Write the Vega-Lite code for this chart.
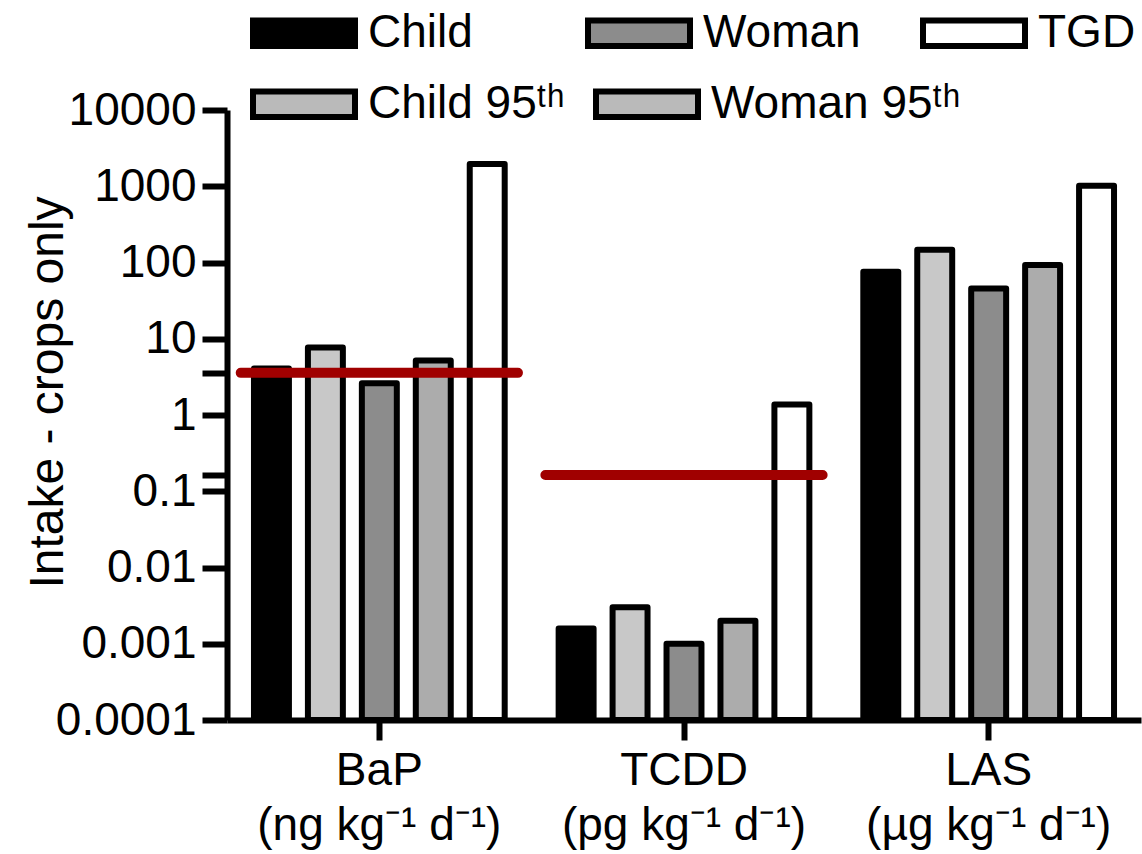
{
  "$schema": "https://vega.github.io/schema/vega-lite/v6.json",
  "width": 914,
  "height": 610,
  "autosize": {"type": "none"},
  "padding": {"left": 227, "top": 110, "right": 1, "bottom": 134},
  "background": "white",
  "config": {
    "view": {"stroke": null},
    "font": "Liberation Sans"
  },
  "datasets": {
    "bars": [
      {"compound": "BaP", "group": "Child", "intake": 4.07},
      {"compound": "BaP", "group": "Child 95th", "intake": 7.67},
      {"compound": "BaP", "group": "Woman", "intake": 2.61},
      {"compound": "BaP", "group": "Woman 95th", "intake": 5.18},
      {"compound": "BaP", "group": "TGD", "intake": 1960},
      {"compound": "TCDD", "group": "Child", "intake": 0.00158},
      {"compound": "TCDD", "group": "Child 95th", "intake": 0.00302},
      {"compound": "TCDD", "group": "Woman", "intake": 0.001},
      {"compound": "TCDD", "group": "Woman 95th", "intake": 0.00201},
      {"compound": "TCDD", "group": "TGD", "intake": 1.37},
      {"compound": "LAS", "group": "Child", "intake": 75.7},
      {"compound": "LAS", "group": "Child 95th", "intake": 147},
      {"compound": "LAS", "group": "Woman", "intake": 45.7},
      {"compound": "LAS", "group": "Woman 95th", "intake": 92.5},
      {"compound": "LAS", "group": "TGD", "intake": 1019}
    ],
    "limits": [
      {"compound": "BaP", "limit": 3.57},
      {"compound": "TCDD", "limit": 0.163}
    ]
  },
  "layer": [
    {
      "data": {"name": "bars"},
      "mark": {"type": "bar", "stroke": "black", "strokeWidth": 6, "strokeJoin": "round"},
      "encoding": {
        "x": {
          "field": "compound",
          "type": "nominal",
          "sort": ["BaP", "TCDD", "LAS"],
          "scale": {"paddingInner": 0, "paddingOuter": 0},
          "axis": {
            "title": null,
            "labelAngle": 0,
            "labelExpr": "datum.value == 'BaP' ? ['BaP', '(ng kg⁻¹ d⁻¹)'] : datum.value == 'TCDD' ? ['TCDD', '(pg kg⁻¹ d⁻¹)'] : ['LAS', '(µg kg⁻¹ d⁻¹)']",
            "labelFontSize": 46,
            "labelFont": "Liberation Sans",
            "labelColor": "black",
            "labelPadding": 8,
            "labelBaseline": "top",
            "labelLineHeight": 55,
            "labelLimit": 500,
            "tickSize": 20,
            "tickWidth": 6,
            "tickColor": "black",
            "domainWidth": 6,
            "domainColor": "black",
            "grid": false
          }
        },
        "xOffset": {
          "field": "group",
          "type": "nominal",
          "sort": ["Child", "Child 95th", "Woman", "Woman 95th", "TGD"],
          "scale": {"paddingInner": 0.352, "paddingOuter": 0.5}
        },
        "y": {
          "field": "intake",
          "type": "quantitative",
          "scale": {"type": "log", "domain": [0.0001, 10000]},
          "axis": {
            "title": "Intake - crops only",
            "titleFontSize": 48,
            "titleFont": "Liberation Sans",
            "titleFontWeight": "normal",
            "titleColor": "black",
            "titleX": -165,
            "titleY": 282,
            "titleBaseline": "alphabetic",
            "titleAlign": "center",
            "values": [0.0001, 0.001, 0.01, 0.1, 1, 10, 100, 1000, 10000, 3.57, 0.163],
            "format": "~g",
            "labelExpr": "datum.value == 3.57 || datum.value == 0.163 ? '' : datum.label",
            "labelFontSize": 46,
            "labelFont": "Liberation Sans",
            "labelColor": "black",
            "labelPadding": 6,
            "labelOverlap": false,
            "labelFlush": false,
            "tickSize": 25,
            "tickWidth": 6,
            "tickColor": "black",
            "domainWidth": 6,
            "domainColor": "black",
            "grid": false
          }
        },
        "y2": {"datum": 0.0001},
        "fill": {
          "field": "group",
          "type": "nominal",
          "scale": {
            "domain": ["Child", "Woman", "TGD", "Child 95th", "Woman 95th"],
            "range": ["#000000", "#8c8c8c", "#ffffff", "#c8c8c8", "#acacac"]
          },
          "legend": {
            "orient": "none",
            "legendX": 23,
            "legendY": -131,
            "direction": "horizontal",
            "columns": 3,
            "gridAlign": "all",
            "columnPadding": 50,
            "padding": 0,
            "title": null,
            "values": ["Child", "Woman", "TGD"],
            "symbolType": "M-1,-0.25H1V0.25H-1Z",
            "symbolSize": 10404,
            "symbolStrokeColor": "black",
            "symbolStrokeWidth": 6,
            "symbolOpacity": 1,
            "labelFontSize": 46,
            "labelFont": "Liberation Sans",
            "labelColor": "black",
            "labelOffset": 10,
            "labelLimit": 500
          }
        },
        "stroke": {
          "field": "group",
          "type": "nominal",
          "scale": {
            "domain": ["Child 95th", "Woman 95th", "Child", "Woman", "TGD"],
            "range": ["#000000", "#000000", "#000000", "#000000", "#000000"]
          },
          "legend": {
            "orient": "none",
            "legendX": 23,
            "legendY": -60,
            "direction": "horizontal",
            "columns": 2,
            "gridAlign": "each",
            "columnPadding": 19,
            "padding": 0,
            "title": null,
            "values": ["Child 95th", "Woman 95th"],
            "symbolType": "M-1,-0.25H1V0.25H-1Z",
            "symbolSize": 10404,
            "symbolFillColor": "#bababa",
            "symbolStrokeColor": "black",
            "symbolStrokeWidth": 6,
            "symbolOpacity": 1,
            "labelFontSize": 46,
            "labelFont": "Liberation Sans",
            "labelColor": "black",
            "labelOffset": 10,
            "labelLimit": 500,
            "labelExpr": "replace(datum.label, '95th', '95ᵗʰ')"
          }
        }
      }
    },
    {
      "data": {"name": "limits"},
      "mark": {"type": "bar", "fill": "#a00000", "stroke": "#a00000", "strokeWidth": 10, "strokeJoin": "round", "width": {"band": 0.91}},
      "encoding": {
        "x": {"field": "compound", "type": "nominal", "sort": ["BaP", "TCDD", "LAS"]},
        "y": {"field": "limit", "type": "quantitative"},
        "y2": {"field": "limit"}
      }
    }
  ]
}
